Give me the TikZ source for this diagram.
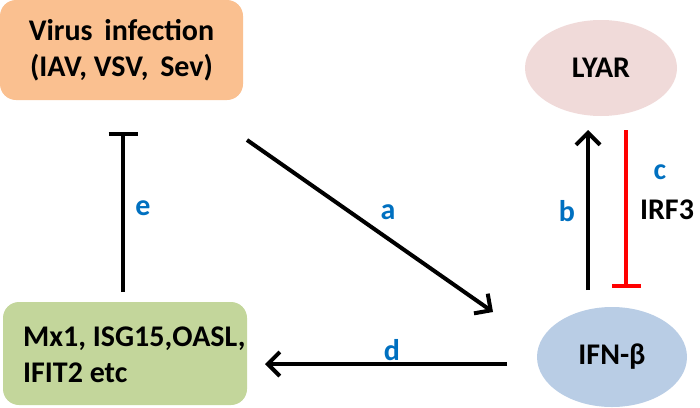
\documentclass[tikz,border=0pt]{standalone}
\usepackage{fontspec}
\setmainfont{Carlito}
\usetikzlibrary{arrows.meta,shapes.geometric}
\definecolor{boxorange}{RGB}{250,192,144}
\definecolor{boxgreen}{RGB}{195,214,155}
\definecolor{lyarpink}{RGB}{240,218,217}
\definecolor{ifnblue}{RGB}{185,205,229}
\definecolor{lblblue}{RGB}{0,112,192}
\definecolor{inhred}{RGB}{255,0,0}
\tikzset{
  boxnode/.style={rectangle, rounded corners=16pt, draw=none, inner sep=0pt},
  ellnode/.style={ellipse, draw=none, inner sep=0pt},
  maintext/.style={font=\bfseries\fontsize{30}{36}\selectfont, text=black},
  lbl/.style={font=\bfseries\fontsize{30}{34}\selectfont, text=lblblue, inner sep=0pt},
  actarrow/.style={line width=4pt, -{Straight Barb[length=12pt,width=24pt]}},
  inharrow/.style={line width=4pt, -{Bar[width=29pt]}}
}
\begin{document}
\begin{tikzpicture}[x=1pt,y=-1pt]
\useasboundingbox (0,0) rectangle (700,407);
% nodes
\node[boxnode, maintext, fill=boxorange, minimum width=243pt, minimum height=100pt, align=center]
  (virus) at (121.5,50) {Virus\, infection\\(IAV, VSV,\, Sev)};
\node[boxnode, fill=boxgreen, minimum width=244pt, minimum height=103pt]
  (genes) at (125,353.5) {};
\node[maintext, inner sep=0pt, align=left, anchor=west]
  (genestext) at (23,355) {Mx1, ISG15,OASL,\\IFIT2 etc};
\node[ellnode, maintext, fill=lyarpink, minimum width=152pt, minimum height=96pt]
  (lyar) at (601,68) {LYAR};
\node[ellnode, maintext, fill=ifnblue, minimum width=150pt, minimum height=100pt]
  (ifn) at (612,357) {IFN-β};
% connector end points
\coordinate (a1) at (247,140);
\coordinate (a2) at (493,312);
\coordinate (b1) at (588,290);
\coordinate (b2) at (588,130);
\coordinate (c1) at (626,130);
\coordinate (c2) at (626,288);
\coordinate (d1) at (507,364);
\coordinate (d2) at (265,364);
\coordinate (e1) at (123,292);
\coordinate (e2) at (123,132);
% connectors
\draw[actarrow] (a1) -- (a2);
\draw[actarrow] (b1) -- (b2);
\draw[inharrow, draw=inhred] (c1) -- (c2);
\draw[actarrow] (d1) -- (d2);
\draw[inharrow] (e1) -- (e2);
% labels
\node[lbl] (la) at (388,212) {a};
\node[lbl] (lb) at (567,211) {b};
\node[lbl] (lc) at (660,172) {c};
\node[maintext, inner sep=0pt] (lirf) at (667,210) {IRF3};
\node[lbl] (ld) at (392,350) {d};
\node[lbl] (le) at (143,208) {e};
\end{tikzpicture}
\end{document}
